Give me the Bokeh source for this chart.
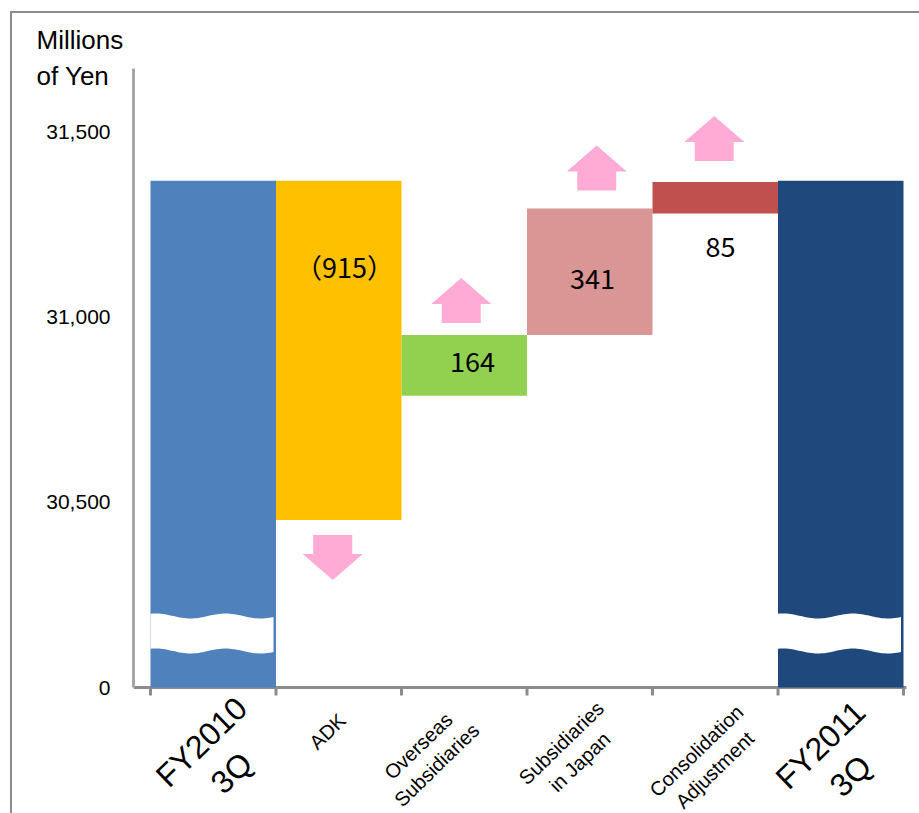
import numpy as np
from bokeh.plotting import figure
from bokeh.models import Range1d, FixedTicker, ColumnDataSource
from bokeh.core.properties import value
from bokeh.embed import file_html
from bokeh.resources import INLINE

# ---- data: consolidated net sales bridge (millions of yen) ----
start_label = "FY2010\n3Q"
end_label = "FY2011\n3Q"
step_labels = ["ADK", "Overseas\nSubsidiaries", "Subsidiaries\nin Japan", "Consolidation\nAdjustment"]
fy2010_total = 31367
fy2011_total = 31367
step_changes = [-915, 164, 341, 85]
step_starts = [31367, 30787, 30951, 31279]
value_texts = ["（915）", "164", "341", "85"]
y_ticks = [30000, 30500, 31000, 31500]
y_tick_labels = ["0", "30,500", "31,000", "31,500"]

# ---- styling ----
total_colors = ["#4F81BD", "#1F497D"]
step_colors = ["#FFC000", "#92D050", "#DA9694", "#C0504D"]
arrow_color = "#FFABD6"
LATIN = "Liberation Sans"
CJK = "Noto Sans CJK JP"

# pixel geometry
PX_X = 125.5            # pixels per category
PX_Y = 556.0 / 1500.0   # pixels per million yen
X0, Y0 = 150.0, 687.0   # pixel position of x=0 / y=30000
BASE = 30000

def xd(px):
    return (px - X0) / PX_X

def yd(py):
    return BASE + (Y0 - py) / PX_Y

p = figure(width=919, height=813,
           x_range=Range1d(xd(133), xd(919)),
           y_range=Range1d(yd(813), yd(68)),
           x_axis_location=None,
           output_backend="svg", toolbar_location=None,
           min_border_left=133, min_border_right=0,
           min_border_top=68, min_border_bottom=0)
p.outline_line_color = None
p.grid.visible = False
p.background_fill_color = "white"
p.border_fill_color = None
# thin grey page frame on the left and top edges
p.styles = {
    "background": "linear-gradient(#8C8C8C, #8C8C8C) 10px 11px / 2px 100% no-repeat, "
                  "linear-gradient(#8C8C8C, #8C8C8C) 10px 11px / 100% 2px no-repeat, white"
}

# unit caption
p.title.text = "Millions\nof Yen"
p.title.align = "left"
p.title.offset = -97
p.title.standoff = -44
p.title.vertical_align = "bottom"
p.title.text_font = LATIN
p.title.text_font_size = "26px"
p.title.text_font_style = "normal"
p.title.text_color = "black"
p.title.text_line_height = 1.2

# y axis (broken: bottom tick stands for zero)
ya = p.yaxis[0]
ya.bounds = (BASE, yd(68))
ya.ticker = FixedTicker(ticks=y_ticks)
ya.major_label_overrides = {t: s for t, s in zip(y_ticks, y_tick_labels)}
ya.major_tick_line_color = None
ya.minor_tick_line_color = None
ya.axis_line_color = "#A6A6A6"
ya.axis_line_width = 3
ya.major_label_text_font = LATIN
ya.major_label_text_font_size = "21px"
ya.major_label_text_color = "black"
ya.major_label_standoff = 17

# category axis: baseline with tick marks at category boundaries
p.segment(x0=[xd(133)], y0=[BASE], x1=[xd(906)], y1=[BASE],
          line_color="#8C8C8C", line_width=3)
bounds = list(range(7))
p.segment(x0=bounds, y0=[BASE] * 7, x1=bounds, y1=[yd(Y0 + 8)] * 7,
          line_color="#8C8C8C", line_width=3)

# total bars
p.quad(left=[0, 5], right=[1, 6], bottom=[BASE, BASE],
       top=[fy2010_total, fy2011_total], color=total_colors, line_color=None)

# change bars
lefts = [1, 2, 3, 4]
bottoms = [min(s, s + c) for s, c in zip(step_starts, step_changes)]
tops = [max(s, s + c) for s, c in zip(step_starts, step_changes)]
p.quad(left=lefts, right=[l + 1 for l in lefts], bottom=bottoms, top=tops,
       color=step_colors, line_color=None)

# wavy break bands across the total bars
for i in (0, 5):
    px = np.linspace(0, 123, 60)
    top_edge = 615.5 - 2.5 * np.cos(2 * np.pi * (px - 75) / 70)
    bot_edge = top_edge + 35
    xs = list(i + px / PX_X) + list(i + px[::-1] / PX_X)
    ys = [yd(v) for v in top_edge] + [yd(v) for v in bot_edge[::-1]]
    p.patch(xs, ys, color="white", line_color=None)

# direction arrows
def arrow(xc_px_off, cat, y_anchor, up, gap):
    cx = cat + 0.5 + xc_px_off / PX_X
    hw, sw = 30 / PX_X, 19.5 / PX_X
    shaft, head = 19 / PX_Y, 26 / PX_Y
    g = gap / PX_Y
    s = 1 if up else -1
    b = y_anchor + s * g
    xs = [cx - sw, cx + sw, cx + sw, cx + hw, cx, cx - hw, cx - sw]
    ys = [b, b, b + s * shaft, b + s * shaft, b + s * (shaft + head),
          b + s * shaft, b + s * shaft]
    return xs, ys

arrow_xs, arrow_ys = [], []
offsets = [-6, -3, 7, -1]
gaps = [15, 12, 18, 21]
for k, c in enumerate(step_changes):
    up = c > 0
    anchor = tops[k] if up else bottoms[k]
    xs, ys = arrow(offsets[k], lefts[k], anchor, up, gaps[k])
    arrow_xs.append(xs)
    arrow_ys.append(ys)
p.patches(arrow_xs, arrow_ys, color=arrow_color, line_color=None)

# value labels
label_px = [(344, 266), (472, 361), (592, 278), (720, 246)]
src = ColumnDataSource(dict(x=[xd(a) for a, _ in label_px],
                            y=[yd(b) for _, b in label_px],
                            t=value_texts))
p.text(x="x", y="y", text="t", source=src, text_font=value(CJK),
       text_font_size="27px", text_align="center", text_baseline="middle",
       text_color="black")

# category names, rotated under the axis
cat_names = [start_label] + step_labels + [end_label]
cat_pos = [(216, 757), (327, 731), (427, 755), (570, 752), (705, 760), (835, 760)]
big = [0, 5]
for group, size in ((big, "32px"), ([1, 2, 3, 4], "20px")):
    csrc = ColumnDataSource(dict(x=[xd(cat_pos[i][0]) for i in group],
                                 y=[yd(cat_pos[i][1]) for i in group],
                                 t=[cat_names[i] for i in group]))
    p.text(x="x", y="y", text="t", source=csrc, angle=0.77,
           text_font=value(LATIN), text_font_size=size,
           text_align="center", text_baseline="middle",
           text_line_height=1.2, text_color="black")

open("out.html", "w").write(file_html(p, INLINE))
